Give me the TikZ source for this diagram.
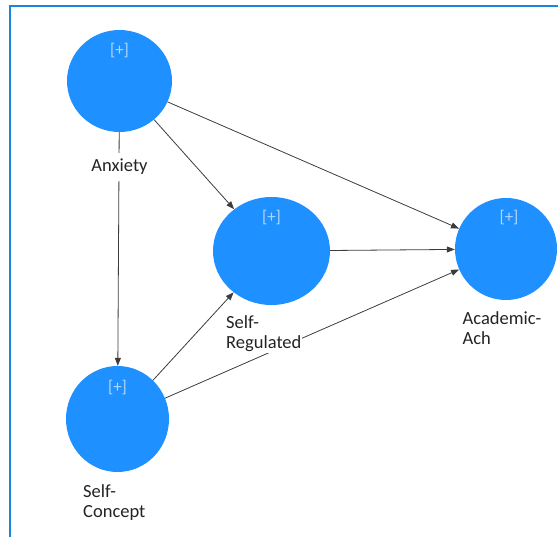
\documentclass[tikz,border=0pt]{standalone}
\usepackage{fontspec}
\setmainfont{Carlito}
\usetikzlibrary{arrows.meta,shapes.geometric}
\definecolor{latentblue}{RGB}{30,144,255}
\definecolor{frameblue}{RGB}{26,133,224}
\definecolor{plusblue}{RGB}{178,216,250}
\definecolor{textgray}{RGB}{35,35,35}
\definecolor{linkgray}{RGB}{60,60,60}
\begin{document}
\begin{tikzpicture}[x=1pt,y=-1pt,
  latent/.style={ellipse, fill=latentblue, draw=none, inner sep=0pt},
  plus/.style={text=plusblue, font=\fontsize{17}{19}\selectfont, inner sep=0pt},
  lbl/.style={text=textgray, font=\fontsize{18.5}{20}\selectfont, align=left, inner sep=1pt, fill=white},
  link/.style={draw=linkgray, line width=0.8pt, -{Triangle[length=8pt,width=6pt]}}]
\useasboundingbox (0,0) rectangle (558,537);
% outer frame
\draw[frameblue, line width=2pt] (10,537) -- (10,6) -- (558,6);

% latent variables
\node[latent, minimum width=105pt, minimum height=102pt] (anx)  at (119.5,81) {};
\node[latent, minimum width=117pt, minimum height=108pt] (sreg) at (271.5,251) {};
\node[latent, minimum width=102pt, minimum height=102pt] (acad) at (506,249) {};
\node[latent, minimum width=103pt, minimum height=106pt] (scon) at (117.5,419) {};

% expand markers
\node[plus] (anxp)  at (119.5,51) {[+]};
\node[plus] (sregp) at (271.5,218) {[+]};
\node[plus] (acadp) at (509,218) {[+]};
\node[plus] (sconp) at (117.5,388) {[+]};

% structural paths
\draw[link] (anx) -- (scon);
\draw[link] (anx) -- (sreg);
\draw[link] (anx) -- (acad);
\draw[link] (sreg) -- (acad);
\draw[link] (scon) -- (sreg);
\draw[link] (scon) -- (acad);

% variable names (base anchor sits on the last line)
\node[lbl, anchor=base, inner ysep=6pt] (anxl) at (119.5,172) {Anxiety};
\node[lbl, anchor=base west] (sregl) at (225,349) {Self-\\Regulated};
\node[lbl, anchor=base west, fill=none] (acadl) at (461.5,345) {Academic-\\Ach};
\node[lbl, anchor=base west, fill=none] (sconl) at (82,518) {Self-\\Concept};
\end{tikzpicture}
\end{document}
